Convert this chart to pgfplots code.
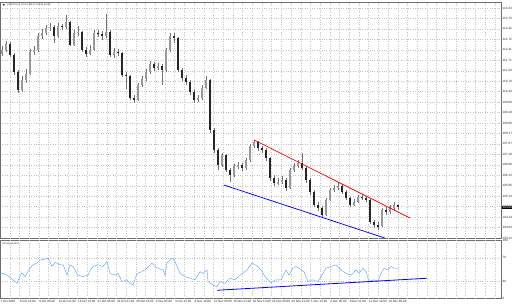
\documentclass[border=0pt]{standalone}
\usepackage{pgfplots}
\pgfplotsset{compat=1.18}
\usepackage{pgfplotstable}
\usepackage{fontspec}
\setmainfont{Liberation Sans}
\definecolor{rsiblue}{RGB}{95,165,250}
\definecolor{gridc}{RGB}{195,195,195}
\definecolor{axc}{RGB}{110,110,110}

\pgfplotstableread{
x o h l c
2 112.00 112.40 111.90 112.21
6 112.21 112.62 112.10 112.50
10 112.50 112.58 111.85 111.96
14 111.96 112.05 111.00 111.14
18 111.14 111.25 110.13 110.27
22 110.27 110.95 110.18 110.76
26 110.76 111.30 110.60 111.05
30 111.05 112.25 110.98 112.11
34 112.11 112.40 111.95 112.21
38 112.21 113.00 112.10 112.88
42 112.88 113.20 112.75 113.03
46 113.03 113.42 112.95 113.27
50 113.27 113.50 113.10 113.32
54 113.32 113.40 112.55 112.88
58 112.88 113.52 112.80 113.36
62 113.36 113.48 113.15 113.32
66 113.32 113.90 113.20 113.56
70 113.56 113.62 112.38 112.45
74 112.45 113.15 112.40 113.03
78 113.03 113.35 112.90 113.07
82 113.07 113.12 112.10 112.21
86 112.21 112.35 111.85 112.01
90 112.01 112.45 111.95 112.21
94 112.21 113.15 112.15 113.03
98 113.03 113.18 112.85 112.98
102 112.98 113.10 112.70 112.88
106 112.88 113.94 112.80 113.07
110 113.07 113.15 111.85 111.96
114 111.96 112.30 111.80 112.11
118 112.11 112.25 111.90 112.06
122 112.06 112.12 110.90 111.00
126 111.00 111.15 110.30 110.95
130 110.95 111.02 109.78 109.89
134 109.89 110.05 109.65 109.79
138 109.79 110.62 109.72 110.51
142 110.51 110.95 110.40 110.80
146 110.80 111.30 110.72 111.14
150 111.14 111.68 111.05 111.53
154 111.53 111.60 111.20 111.34
158 111.34 111.58 111.22 111.43
162 111.43 111.52 110.51 111.24
166 111.24 112.30 111.15 112.21
170 112.21 113.02 112.10 112.88
174 112.88 113.00 112.55 112.78
178 112.78 112.85 111.15 111.24
182 111.24 111.35 110.70 110.85
186 110.85 111.00 110.50 110.66
190 110.66 110.75 110.05 110.18
194 110.18 110.30 109.65 109.79
198 109.79 110.02 109.70 109.89
202 109.89 110.50 109.80 110.37
206 110.37 110.95 110.30 110.76
210 110.76 110.82 108.20 108.34
214 108.34 108.45 107.25 107.38
218 107.38 107.48 106.41 106.65
222 106.65 107.25 106.55 107.13
226 107.13 107.20 106.30 106.41
230 106.41 106.50 105.82 106.17
234 106.17 106.72 106.08 106.60
238 106.60 106.80 106.48 106.65
242 106.65 106.75 106.38 106.51
246 106.51 107.00 106.42 106.89
250 106.89 107.68 106.80 107.57
254 107.57 107.86 107.45 107.76
258 107.76 107.82 107.35 107.47
262 107.47 107.58 107.25 107.38
266 107.38 107.45 106.85 106.99
270 106.99 107.05 105.90 106.02
274 106.02 106.15 105.65 105.78
278 105.78 106.00 105.70 105.83
282 105.83 106.10 105.75 105.93
286 105.93 106.00 105.40 105.54
290 105.54 106.52 105.48 106.41
294 106.41 106.75 106.30 106.60
298 106.60 106.88 106.50 106.75
302 106.75 107.23 106.40 106.51
306 106.51 106.58 105.80 105.93
310 105.93 106.00 105.22 105.35
314 105.35 105.42 104.60 104.72
318 104.72 104.85 104.45 104.57
322 104.57 104.65 104.14 104.24
326 104.24 105.05 104.18 104.96
330 104.96 105.55 104.90 105.44
334 105.44 105.70 105.35 105.54
338 105.54 105.82 105.45 105.64
342 105.64 105.72 105.25 105.35
346 105.35 105.42 104.95 105.06
350 105.06 105.12 104.62 104.72
354 104.72 105.00 104.65 104.86
358 104.86 105.22 104.80 105.10
362 105.10 105.25 104.95 105.06
366 105.06 105.15 104.85 104.96
370 104.96 105.02 103.80 103.90
374 103.90 104.00 103.62 103.75
378 103.75 103.88 103.51 103.70
382 103.70 104.58 103.65 104.48
386 104.48 104.62 104.25 104.38
390 104.38 104.70 104.28 104.57
394 104.57 104.85 104.45 104.72
398 104.72 104.78 104.50 104.62
}\candles

\pgfplotstableread{
x v
0 43
3 43
7 40
11 35
15 29
17 26
20 38
22 44
25 37.5
28 46
30 52
33 58
37 61
40 66
45 68
48 69.5
50 63
52 55
55 62
58 60
60 58
63 58
65 50
67 40
70 58
73 55
76 46
78 40
83 37.5
88 40
90 48
93 55
98 58
103 55
107 63.5
110 43
115 40
118 43
122 29
127 32
130 26
133 23
137 43
142 46
147 52
152 61
155 55
158 52
163 49
165 40
167 61
172 69.5
175 63.5
180 43
185 37.5
190 35
195 32
200 46
203 43
207 49
208 29
213 23
217 20
220 29
225 26
230 35
235 32
240 40
244 45
247 49
252 61
255 58
258 55
261 49
266 35
271 27
276 32
281 32
286 49
289 40
293 52
296 55
299 52
304 46
308 29
313 32
318 29
323 43
326 52
331 55
336 58
341 49
346 43
351 40
356 49
359 43
363 52
366 46
369 29
374 32
378 29
381 43
384 52
388 49
391 55
394 52
398 52
}\rsi

\pgfplotsset{
  mtgrid/.style={
    extra x ticks={9.7,19.4,...,494.7},
    extra x tick labels={},
    extra x tick style={grid=major, major tick length=0pt, xticklabels={}},
    major grid style={gridc, dotted, line width=0.35pt},
  }
}

\begin{document}
\begin{tikzpicture}
\useasboundingbox (0,0) rectangle (512pt,-307pt);
\begin{axis}[
  at={(0pt,-2pt)}, anchor=north west,
  scale only axis, width=501pt, height=236.5pt,
  xmin=0, xmax=501, ymin=103.10, ymax=114.52,
  axis line style={axc, line width=0.5pt},
  xtick=\empty,
  mtgrid,
  ytick={103.12,103.63,104.13,104.64,105.14,105.65,106.15,106.66,107.16,107.67,108.17,108.68,109.18,109.69,110.19,110.70,111.20,111.71,112.21,112.72,113.22,113.73,114.23},
  ymajorgrids=true,
  ytick pos=right, yticklabel pos=right,
  yticklabel style={font=\fontsize{3.1}{3.6}\selectfont, anchor=west, inner sep=0.3pt, text=black!85,
    /pgf/number format/.cd, fixed, fixed zerofill, precision=2, assume math mode=true},
  tick align=outside, major tick length=1.2pt,
  tick style={axc, line width=0.35pt},
  clip=true,
]
% wicks
\addplot[draw=none, mark=none, forget plot,
  error bars/.cd, y dir=both, y explicit, error mark=none,
  error bar style={draw=black!55, line width=0.5pt}]
  table[x=x, y expr={(\thisrow{h}+\thisrow{l})/2}, y error expr={(\thisrow{h}-\thisrow{l})/2}] {\candles};
% bull bodies
\addplot[draw=none, mark=none, forget plot,
  restrict expr to domain={\thisrow{c}-\thisrow{o}}{0:100},
  error bars/.cd, y dir=both, y explicit, error mark=none,
  error bar style={draw=black!40, line width=1.8pt}]
  table[x=x, y expr={(\thisrow{o}+\thisrow{c})/2}, y error expr={abs(\thisrow{c}-\thisrow{o})/2}] {\candles};
% bear bodies
\addplot[draw=none, mark=none, forget plot,
  restrict expr to domain={\thisrow{c}-\thisrow{o}}{-100:0},
  error bars/.cd, y dir=both, y explicit, error mark=none,
  error bar style={draw=black!85, line width=1.8pt}]
  table[x=x, y expr={(\thisrow{o}+\thisrow{c})/2}, y error expr={abs(\thisrow{c}-\thisrow{o})/2}] {\candles};
% trend lines
\addplot[red, line width=0.75pt] coordinates {(254,107.86) (410,104.09)};
\addplot[blue, line width=0.75pt] coordinates {(224,105.68) (385,103.12)};
\coordinate (cp) at (axis cs:501,104.62);
\end{axis}
\node[fill=black, text=white, font=\fontsize{3.1}{3.6}\selectfont, inner sep=0.4pt, anchor=west, xshift=1pt] at (cp) {104.62};
\fill[black!70] (2.5pt,-4pt) -- (5pt,-4pt) -- (3.75pt,-6pt) -- cycle;
\node[anchor=west, font=\fontsize{2.3}{2.8}\selectfont, inner sep=0pt, text=black!85] at (7pt,-5pt) {USDJPY,H4\ \ 104.61 104.67 104.58 104.62};

\begin{axis}[
  at={(0pt,-240.5pt)}, anchor=north west,
  scale only axis, width=501pt, height=57.8pt,
  xmin=0, xmax=501, ymin=0, ymax=100,
  axis line style={axc, line width=0.5pt},
  xtick={0,19.4,...,388},
  xticklabels={1 Oct 2020,6 Oct 13:00,9 Oct 05:00,13 Oct 21:00,16 Oct 13:00,21 Oct 05:00,23 Oct 21:00,28 Oct 13:00,2 Nov 05:00,4 Nov 21:00,9 Nov 13:00,12 Nov 05:00,16 Nov 21:00,19 Nov 13:00,24 Nov 05:00,26 Nov 21:00,1 Dec 13:00,4 Dec 05:00,8 Dec 21:00,11 Dec 13:00,16 Dec 05:00},
  xticklabel style={font=\fontsize{3}{3.5}\selectfont, anchor=north west, inner sep=0.4pt, text=black!85},
  xtick pos=bottom,
  mtgrid,
  ytick={0,30,70,100}, ymajorgrids=true,
  ytick pos=right, yticklabel pos=right,
  yticklabel style={font=\fontsize{3.1}{3.6}\selectfont, anchor=west, inner sep=0.3pt, text=black!85,
    /pgf/number format/assume math mode=true},
  tick align=outside, major tick length=1.2pt,
  tick style={axc, line width=0.35pt},
]
\addplot[rsiblue, line width=0.45pt] table[x=x, y=v] {\rsi};
\addplot[blue, line width=0.8pt] coordinates {(217,13.9) (427,34.7)};
\end{axis}
\node[anchor=west, font=\fontsize{2.3}{2.8}\selectfont, inner sep=0pt, text=black!85] at (2pt,-243.5pt) {RSI(14) 55.4567};
\end{tikzpicture}
\end{document}
